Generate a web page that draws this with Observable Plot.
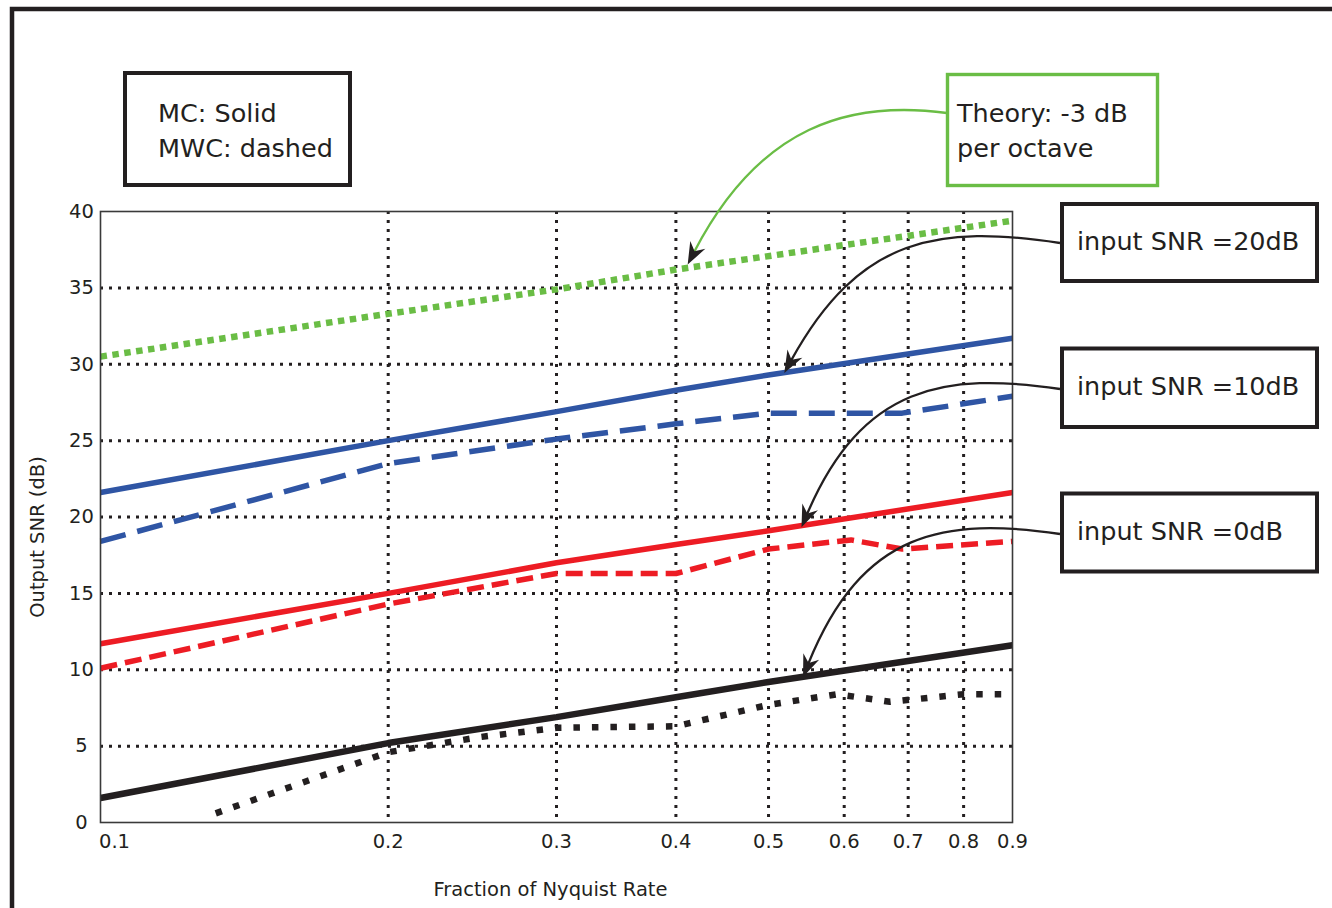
<!DOCTYPE html>
<html><head><meta charset="utf-8">
<script src="https://cdn.jsdelivr.net/npm/d3@7"></script>
<script src="https://cdn.jsdelivr.net/npm/@observablehq/plot@0.6"></script>
<style>html,body{margin:0;padding:0;background:#fff;} svg{display:block}</style>
</head><body><div id="chart"></div>
<script>
// ---- data ----
const xTicks = [0.1, 0.2, 0.3, 0.4, 0.5, 0.6, 0.7, 0.8, 0.9];
const yTicks = [0, 5, 10, 15, 20, 25, 30, 35, 40];

const theoryX = [0.1, 0.2, 0.3, 0.4, 0.9];
const theoryY = [30.5, 33.3, 34.9, 36.2, 39.4];

const mc20X  = [0.1, 0.2, 0.3, 0.4, 0.5, 0.9];
const mc20Y  = [21.6, 25.0, 26.9, 28.3, 29.3, 31.7];
const mwc20X = [0.1, 0.2, 0.3, 0.4, 0.5, 0.6, 0.69, 0.9];
const mwc20Y = [18.4, 23.5, 25.1, 26.1, 26.8, 26.8, 26.8, 27.9];

const mc10X  = [0.1, 0.2, 0.3, 0.4, 0.5, 0.9];
const mc10Y  = [11.7, 15.0, 17.0, 18.2, 19.1, 21.6];
const mwc10X = [0.1, 0.2, 0.26, 0.3, 0.4, 0.5, 0.61, 0.69, 0.9];
const mwc10Y = [10.1, 14.3, 15.6, 16.3, 16.3, 17.9, 18.5, 17.9, 18.4];

const mc0X  = [0.1, 0.2, 0.3, 0.4, 0.5, 0.9];
const mc0Y  = [1.6, 5.2, 6.9, 8.2, 9.2, 11.6];
const mwc0X = [0.132, 0.2, 0.25, 0.3, 0.4, 0.5, 0.59, 0.67, 0.8, 0.9];
const mwc0Y = [0.6, 4.6, 5.6, 6.2, 6.3, 7.7, 8.4, 7.9, 8.4, 8.4];

const xLabel = "Fraction of Nyquist Rate";
const yLabel = "Output SNR (dB)";
const legendLines = ["MC: Solid", "MWC: dashed"];
const theoryLines = ["Theory: -3 dB", "per octave"];
const snrLabels = ["input SNR =20dB", "input SNR =10dB", "input SNR =0dB"];

// ---- styles ----
const BLUE = "#2f55a4", RED = "#ed1c24", BLACK = "#231f20", GREEN = "#6abd45";
const FONT = "'DejaVu Sans', Verdana, sans-serif";

const toRows = (xs, ys) => xs.map((x, i) => ({x, y: ys[i]}));
const series = [
  {rows: toRows(theoryX, theoryY), stroke: GREEN, width: 6.5, dash: "6.5,5.5"},
  {rows: toRows(mc20X, mc20Y), stroke: BLUE, width: 5.5, dash: null},
  {rows: toRows(mwc20X, mwc20Y), stroke: BLUE, width: 5.5, dash: "26,12"},
  {rows: toRows(mc10X, mc10Y), stroke: RED, width: 5.5, dash: null},
  {rows: toRows(mwc10X, mwc10Y), stroke: RED, width: 5.5, dash: "17,8"},
  {rows: toRows(mc0X, mc0Y), stroke: BLACK, width: 6.5, dash: null},
  {rows: toRows(mwc0X, mwc0Y), stroke: BLACK, width: 6.5, dash: "6.5,12"}
];

const gridStyle = {stroke: BLACK, strokeWidth: 3, strokeDasharray: "3,6", strokeOpacity: 1};

const plot = Plot.plot({
  width: 1332, height: 908,
  marginLeft: 100, marginRight: 320, marginTop: 211, marginBottom: 86,
  style: {fontFamily: FONT, background: "#fff", color: BLACK},
  x: {type: "log", domain: [0.1, 0.9], axis: null},
  y: {domain: [0, 40], axis: null},
  marks: [
    Plot.ruleY(yTicks.filter(d => d > 0 && d < 40), gridStyle),
    Plot.ruleX(xTicks.filter(d => d > 0.1 && d < 0.9), gridStyle),
    ...series.map(s => Plot.line(s.rows, {
      x: "x", y: "y", stroke: s.stroke, strokeWidth: s.width,
      strokeDasharray: s.dash, strokeLinecap: "butt", strokeLinejoin: "miter"
    })),
    Plot.frame({stroke: "#3a3a3a", strokeWidth: 1.6}),
    Plot.text(yTicks, {y: d => d, frameAnchor: "left", dx: -19, textAnchor: "middle",
      text: d => String(d), fontSize: 19.5, fill: BLACK}),
    Plot.text(xTicks.filter(d => d > 0.1), {x: d => d, frameAnchor: "bottom", dy: 19, lineAnchor: "middle",
      text: d => String(d), fontSize: 19.5, fill: BLACK}),
    Plot.text(xTicks.filter(d => d === 0.1), {x: d => d, frameAnchor: "bottom", dy: 19, dx: 14, lineAnchor: "middle",
      text: d => String(d), fontSize: 19.5, fill: BLACK}),
    Plot.text([xLabel], {frameAnchor: "bottom", dx: -6, dy: 73, lineAnchor: "bottom",
      text: d => d, fontSize: 19.5, fill: BLACK})
  ]
});
document.getElementById("chart").appendChild(plot);

// ---- annotations ----
const sx = plot.scale("x"), sy = plot.scale("y");
const svg = d3.select(plot);

// outer frame
svg.insert("rect", ":first-child")
  .attr("x", 12).attr("y", 9).attr("width", 1400).attr("height", 1000)
  .attr("fill", "none").attr("stroke", BLACK).attr("stroke-width", 4.5);

const ann = svg.append("g");

// y axis title
ann.append("text")
  .attr("transform", "translate(37,537) rotate(-90)")
  .attr("text-anchor", "middle").attr("dominant-baseline", "central")
  .attr("font-family", FONT).attr("font-size", 19.5).attr("fill", BLACK)
  .text(yLabel);

function box(x, y, w, h, stroke, sw, lines, tx, baselines) {
  ann.append("rect").attr("x", x).attr("y", y).attr("width", w).attr("height", h)
    .attr("fill", "#fff").attr("stroke", stroke).attr("stroke-width", sw);
  lines.forEach((t, i) => ann.append("text").attr("x", tx).attr("y", baselines[i])
    .attr("text-anchor", "start")
    .attr("font-family", FONT).attr("font-size", 25.5).attr("fill", BLACK).text(t));
}

function arrow(start, c1, c2, tipData, stroke) {
  const tip = [sx.apply(tipData[0]), sy.apply(tipData[1])];
  const ang = Math.atan2(tip[1] - c2[1], tip[0] - c2[0]);
  const back = [tip[0] - 14 * Math.cos(ang), tip[1] - 14 * Math.sin(ang)];
  ann.append("path")
    .attr("d", `M${start[0]},${start[1]} C${c1[0]},${c1[1]} ${c2[0]},${c2[1]} ${back[0]},${back[1]}`)
    .attr("fill", "none").attr("stroke", stroke).attr("stroke-width", 2.3);
  ann.append("path")
    .attr("d", "M0,0 L-22,-8.5 L-15,0 L-22,8.5 Z")
    .attr("transform", `translate(${tip[0]},${tip[1]}) rotate(${ang * 180 / Math.PI})`)
    .attr("fill", BLACK);
}

box(125, 73, 225, 112, BLACK, 4, legendLines, 158, [122, 157]);
box(947.5, 74.5, 210, 111, GREEN, 3.4, theoryLines, 957, [122, 157]);
box(1062, 204, 255, 77, BLACK, 4, [snrLabels[0]], 1077, [250]);
box(1062, 348.5, 255, 78.5, BLACK, 4, [snrLabels[1]], 1077, [395]);
box(1062, 493.5, 255, 78, BLACK, 4, [snrLabels[2]], 1077, [540]);

arrow([947, 113], [850, 100], [760, 125], [0.412, 36.5], GREEN);
arrow([1060, 243], [940, 225], [860, 235], [0.52, 29.4], BLACK);
arrow([1060, 389], [945, 372], [862, 385], [0.542, 19.3], BLACK);
arrow([1060, 534], [945, 517], [862, 530], [0.544, 9.5], BLACK);
</script>
</body></html>
